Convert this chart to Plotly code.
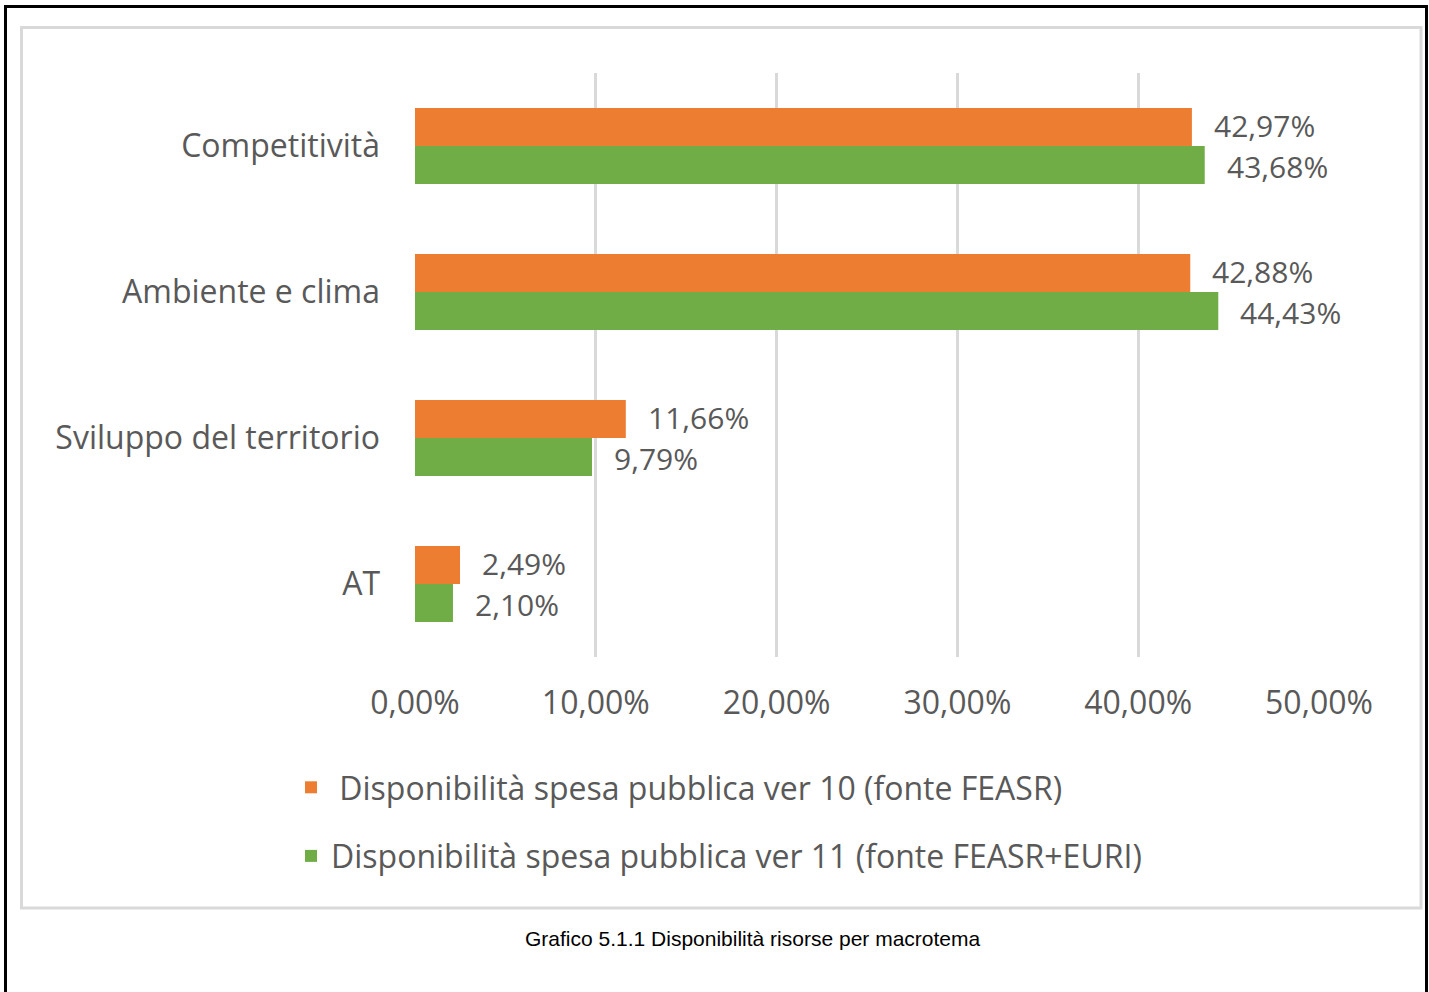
import plotly.graph_objects as go

categories = ["Competitività", "Ambiente e clima", "Sviluppo del territorio", "AT"]
ver10_values = [0.4297, 0.4288, 0.1166, 0.0249]
ver11_values = [0.4368, 0.4443, 0.0979, 0.0210]
ver10_name = " Disponibilità spesa pubblica ver 10 (fonte FEASR)"
ver11_name = "Disponibilità spesa pubblica ver 11 (fonte FEASR+EURI)"
x_ticks = [0, 0.1, 0.2, 0.3, 0.4, 0.5]
caption = "Grafico 5.1.1 Disponibilità risorse per macrotema"

W, H = 1429, 992
ML, MR, MT, MB = 415, 110, 73, 335
PW, PH = W - ML - MR, H - MT - MB


def px_x(p):
    return (p - ML) / PW


def px_y(p):
    return (H - MB - p) / PH


ORANGE = "#ED7D31"
GREEN = "#70AD47"
TEXT = "#595959"
FONT = "Open Sans, Noto Sans, sans-serif"
FS = 32
LABEL_FS = 30

fig = go.Figure()
fig.add_trace(go.Bar(
    y=categories, x=ver10_values, orientation="h", name=ver10_name,
    marker=dict(color=ORANGE, line=dict(width=0)), legendgroup="a",
))
fig.add_trace(go.Bar(
    y=categories, x=ver11_values, orientation="h", name=ver11_name,
    marker=dict(color=GREEN, line=dict(width=0)), legendgroup="b",
))

# value labels beside the bar ends
annotations = []
for vals, shift in ((ver10_values, 20.5), (ver11_values, -20.5)):
    for c, v in zip(categories, vals):
        annotations.append(dict(
            x=v, y=c, xref="x", yref="y", text=f"{v*100:.2f}%".replace(".", ","),
            showarrow=False, xanchor="left", yanchor="middle",
            xshift=20, yshift=shift, font=dict(size=LABEL_FS, color=TEXT, family=FONT),
        ))

annotations.append(dict(
    x=px_x(753), y=px_y(938), xref="paper", yref="paper", text=caption,
    showarrow=False, xanchor="center", yanchor="middle",
    font=dict(size=21, color="#000000", family="Liberation Sans, Arial, sans-serif"),
))

shapes = [
    # inner chart frame
    dict(type="rect", xref="paper", yref="paper",
         x0=px_x(21.5), x1=px_x(1421), y0=px_y(27.5), y1=px_y(908),
         line=dict(color="#D9D9D9", width=3), fillcolor="rgba(0,0,0,0)", layer="below"),
    # outer page frame
    dict(type="path", xref="paper", yref="paper",
         path=f"M {px_x(5.5)} {px_y(1000)} L {px_x(5.5)} {px_y(6.5)} "
              f"L {px_x(1426.5)} {px_y(6.5)} L {px_x(1426.5)} {px_y(1000)}",
         line=dict(color="#000000", width=3)),
]

fig.update_layout(
    width=W, height=H,
    margin=dict(l=ML, r=MR, t=MT, b=MB, autoexpand=False),
    paper_bgcolor="white", plot_bgcolor="white",
    separators=",.",
    barmode="group", bargap=0.48, bargroupgap=0,
    font=dict(family=FONT, color=TEXT),
    xaxis=dict(
        range=[0, 0.5], tickvals=x_ticks, tickformat=".2%",
        showgrid=True, gridcolor="#D9D9D9", gridwidth=3,
        zeroline=False, showline=False, ticks="",
        tickfont=dict(size=FS, color=TEXT, family=FONT),
        ticklabelstandoff=24,
    ),
    yaxis=dict(
        categoryorder="array", categoryarray=categories, autorange="reversed",
        showgrid=False, zeroline=False, showline=False, ticks="",
        tickfont=dict(size=FS, color=TEXT, family=FONT),
        ticklabelstandoff=34,
    ),
    legend=dict(
        orientation="v", x=px_x(291), xanchor="left", y=px_y(760), yanchor="top",
        font=dict(size=FS, color=TEXT, family=FONT),
        tracegroupgap=24, bgcolor="rgba(0,0,0,0)",
    ),
    annotations=annotations,
    shapes=shapes,
)

fig.write_html("out.html")
